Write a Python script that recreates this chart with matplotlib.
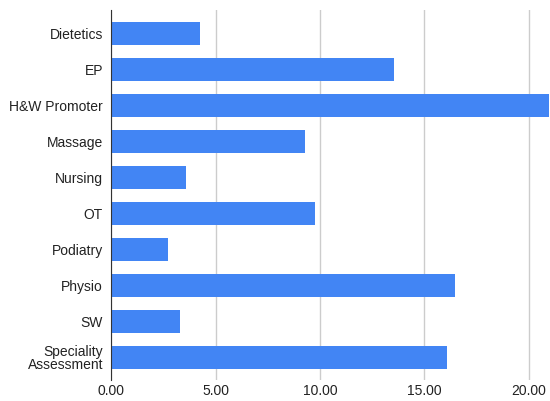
import matplotlib
matplotlib.use("Agg")
import matplotlib.pyplot as plt
import numpy as np

# data
categories = ["Dietetics", "EP", "H&W Promoter", "Massage", "Nursing",
              "OT", "Podiatry", "Physio", "SW", "Speciality\nAssessment"]
values = [4.24, 13.56, 21.0, 9.29, 3.59, 9.74, 2.70, 16.48, 3.30, 16.08]
xticks = [0, 5, 10, 15, 20]

plt.rcParams['font.family'] = ['Liberation Sans', 'DejaVu Sans']

fig = plt.figure(figsize=(5.5, 4.01), dpi=100)
ax = fig.add_axes([0.2025, 0.0524, 0.7975, 0.9227])

y = np.arange(len(categories))
ax.barh(y, values, height=0.64, color="#4285F4", zorder=3)

ax.set_ylim(len(categories) - 1 + 0.625, -0.653)
ax.set_xlim(0, 21.03)
ax.set_yticks(y)
ax.set_yticklabels(categories, fontsize=10, color="#222222",
                   linespacing=0.95, multialignment='right')
ax.set_xticks(xticks)
ax.set_xticklabels(["%.2f" % t for t in xticks], fontsize=10, color="#222222")
ax.tick_params(axis='y', length=0, pad=6)
ax.tick_params(axis='x', length=0, pad=3)

ax.grid(axis='x', color="#cccccc", linewidth=1, zorder=0)
for s in ["top", "right", "bottom"]:
    ax.spines[s].set_visible(False)
ax.spines["left"].set_color("#333333")
ax.spines["left"].set_zorder(4)

fig.savefig("out.png", dpi=100)
